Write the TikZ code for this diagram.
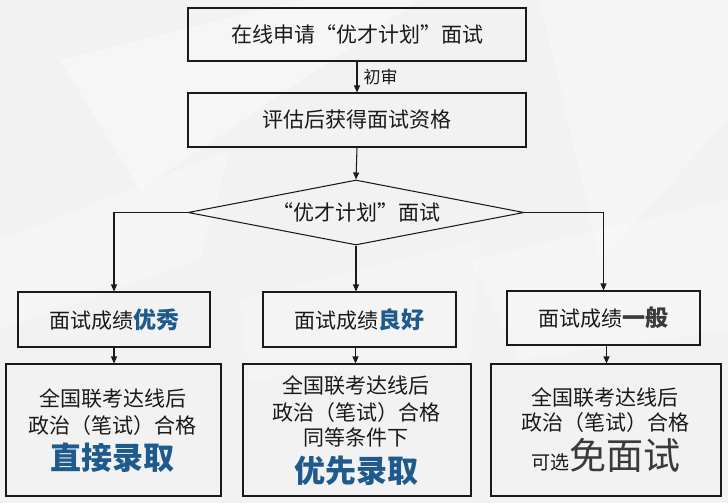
\documentclass[tikz,border=0pt]{standalone}
\usepackage{fontspec}
\setmainfont{Noto Sans CJK SC}
\usetikzlibrary{arrows.meta,shapes.geometric,calc}
\definecolor{bg}{HTML}{F2F2F2}
\definecolor{hblue}{HTML}{1F5A8C}
\definecolor{hgray}{HTML}{3A3A3A}
\definecolor{txt}{HTML}{1A1A1A}
\tikzset{
  box/.style={draw=txt, line width=1.05pt, rectangle, inner sep=0pt, text=txt},
  conn/.style={draw=txt, line width=1.05pt, -{Triangle[length=7pt,width=6pt]}},
  fs/.style={font=\fontsize{21}{26}\selectfont},
  ln/.style={anchor=base, inner sep=0pt, text=txt, font=\fontsize{21}{26}\selectfont},
}
\newcommand{\bigb}[2]{{\fontsize{#1}{#1}\selectfont\bfseries #2}}
\begin{document}
\begin{tikzpicture}[x=1pt,y=-1pt]
\useasboundingbox (0,0) rectangle (728,503);
% background
\fill[bg] (0,0) rectangle (728,503);
\fill[white,opacity=0.35] (60,60) -- (300,0) -- (420,0) -- (140,190) -- cycle;
\fill[white,opacity=0.3] (0,240) -- (230,150) -- (200,260) -- (0,330) -- cycle;
\fill[white,opacity=0.3] (540,0) -- (728,0) -- (728,120) -- (600,260) -- cycle;
\fill[white,opacity=0.25] (470,260) -- (728,200) -- (728,330) -- (520,360) -- cycle;
\fill[white,opacity=0.2] (240,300) -- (480,240) -- (470,360) -- (250,380) -- cycle;

% nodes
\node[box, fs, minimum width=338pt, minimum height=53pt] (top) at (357,34.5) {在线申请“优才计划”面试};
\node[box, fs, minimum width=338pt, minimum height=54pt] (qual) at (357,120) {评估后获得面试资格};
\node[draw=txt, line width=1.05pt, diamond, aspect=5.2, inner sep=0pt, text=txt, fs,
      minimum width=336pt, minimum height=65pt] (dia) at (356,212.5) {“优才计划”面试};

\node[box, fs, minimum width=192pt, minimum height=55pt] (b1) at (114,319.5) {面试成绩\textcolor{hblue}{\bigb{23}{优秀}}};
\node[box, fs, minimum width=193pt, minimum height=55pt] (b2) at (359.5,319.5) {面试成绩\textcolor{hblue}{\bigb{23}{良好}}};
\node[box, fs, minimum width=193pt, minimum height=54pt] (b3) at (603.5,318) {面试成绩\textcolor{hgray}{\bigb{23}{一般}}};

\node[box, minimum width=215pt, minimum height=132pt] (c1) at (113.5,430) {};
\node[box, minimum width=228pt, minimum height=132pt] (c2) at (357,430) {};
\node[box, minimum width=230pt, minimum height=132pt] (c3) at (606,430) {};

% texts of lower boxes
\node[ln] (c1a) at (112.5,406) {全国联考达线后};
\node[ln] (c1b) at (112.5,433) {政治（笔试）合格};
\node[ln, text=hblue] (c1c) at (112.5,469) {\bigb{31}{直接录取}};

\node[ln] (c2a) at (356,393) {全国联考达线后};
\node[ln] (c2b) at (356,420) {政治（笔试）合格};
\node[ln] (c2c) at (356,445) {同等条件下};
\node[ln, text=hblue] (c2d) at (356,482) {\bigb{31}{优先录取}};

\node[ln] (c3a) at (605,405) {全国联考达线后};
\node[ln] (c3b) at (605,430) {政治（笔试）合格};
\node[ln] (c3c) at (606,469) {{\fontsize{19}{19}\selectfont 可选}\textcolor{hgray}{\fontsize{37}{37}\selectfont 免面试}};

% connectors
\draw[conn] (top.south) -- (qual.north) node[midway, right=6pt, inner sep=0pt, text=txt, font=\fontsize{17}{20}\selectfont] (lab) {初审};
\draw[conn] (qual.south) -- (dia.north);
\draw[conn] (dia.west) -| (b1.north);
\draw[conn] (dia.east) -| (b3.north);
\draw[conn] (dia.south) -- (dia.south |- b2.north);
\draw[conn] (b1.south) -- (b1.south |- c1.north);
\draw[conn] ($(b2.south)+(-4,0)$) -- ($(b2.south |- c2.north)+(-4,0)$);
\draw[conn] ($(b3.south)+(3,0)$) -- ($(b3.south |- c3.north)+(3,0)$);
\end{tikzpicture}
\end{document}
